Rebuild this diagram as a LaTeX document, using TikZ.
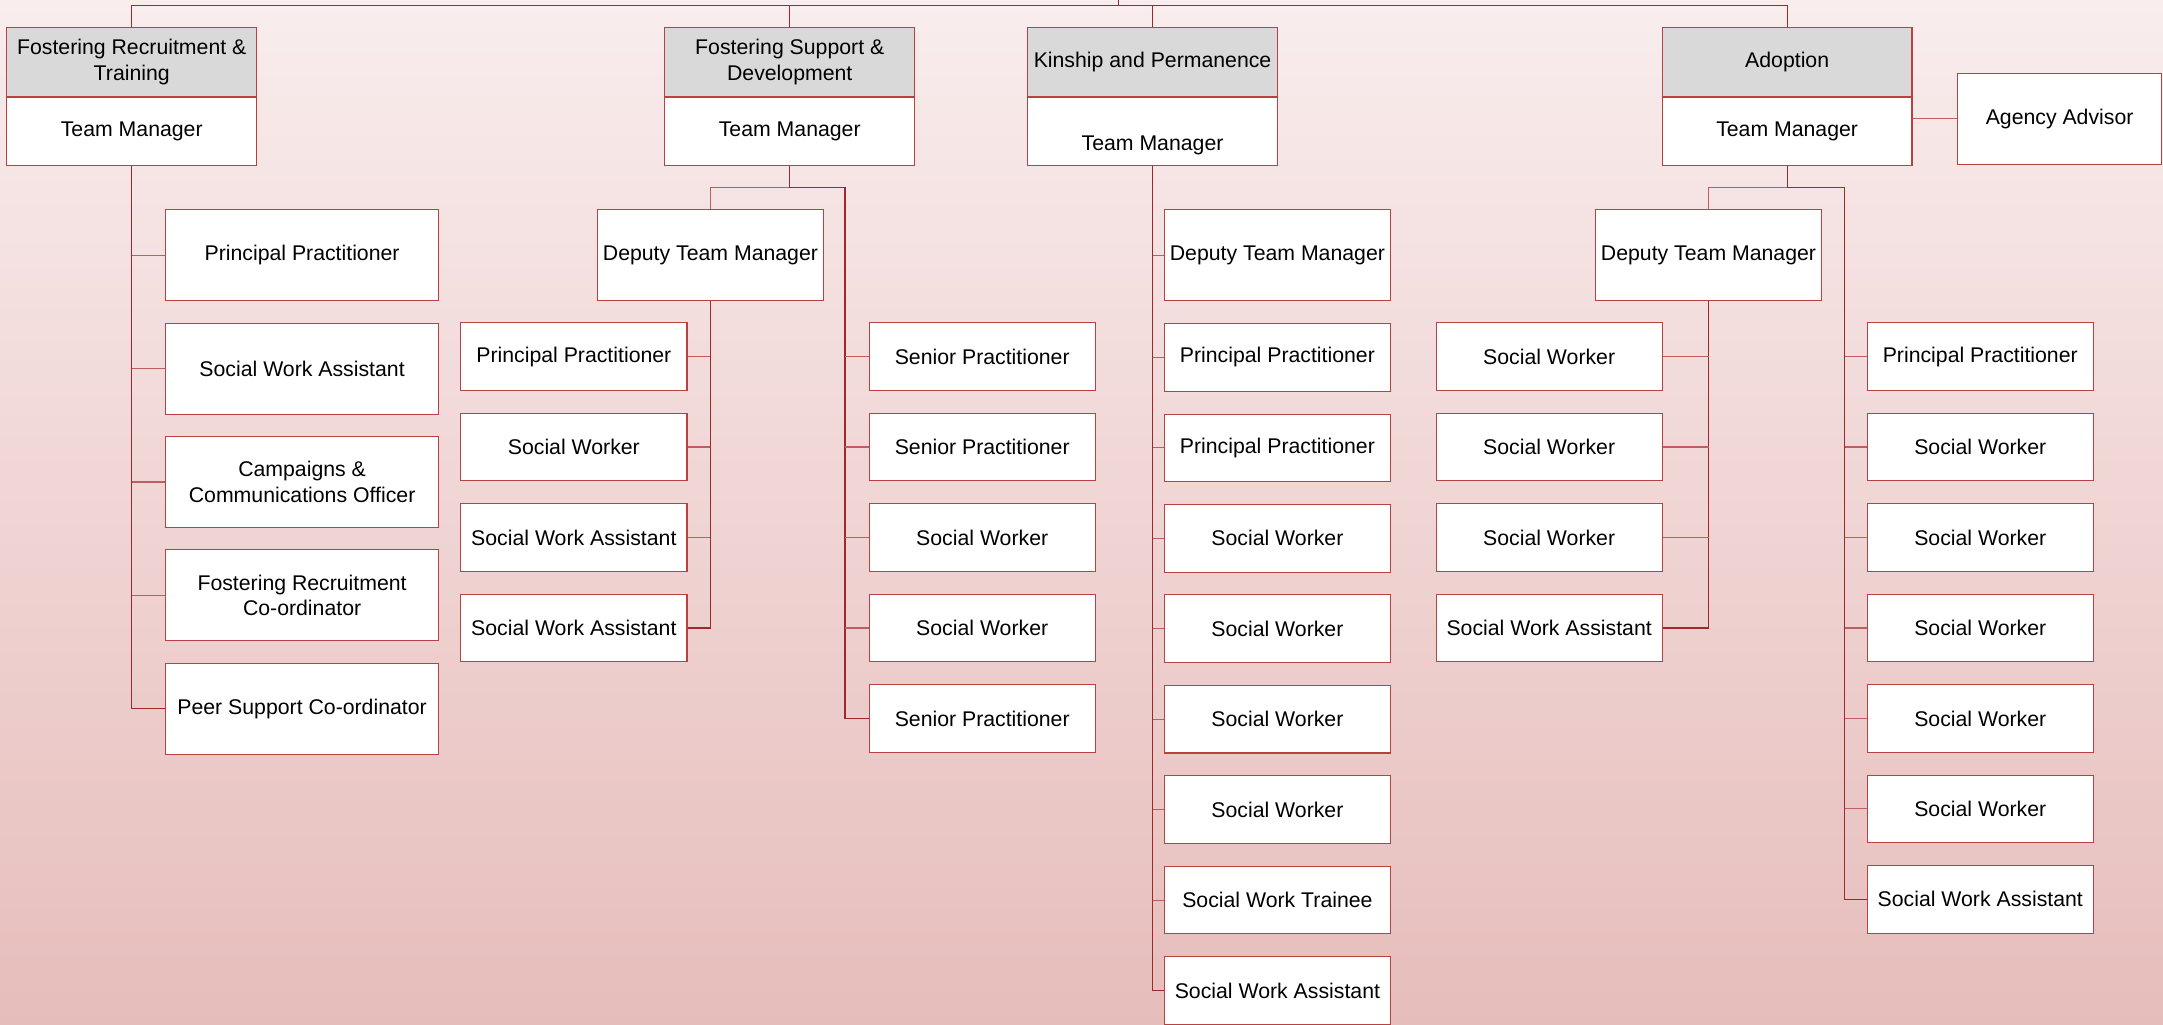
\documentclass[tikz,border=0pt]{standalone}
\usepackage{fontspec}
\setmainfont{Liberation Sans}
\usepackage{xcolor}
\definecolor{LINECOLOR}{RGB}{160,40,42}
\definecolor{STUBCOLOR}{RGB}{190,95,95}
\definecolor{BORDERCOLOR}{RGB}{185,65,65}
\definecolor{HEADCOLOR}{RGB}{217,217,217}
\definecolor{TOPCOLOR}{RGB}{249,237,237}
\definecolor{BOTTOMCOLOR}{RGB}{230,189,187}
\usepackage{tikz}
\usetikzlibrary{positioning,calc}
\tikzset{
  basic-style/.style = {
    rectangle, draw=BORDERCOLOR, line width=0.6pt,
    fill=#1,
    align=center,
    inner sep=1pt,
    font=\fontsize{12.1}{14.5}\selectfont
  },
  head-style/.style = {
    basic-style=HEADCOLOR,
    minimum width=4.994cm,
    minimum height=1.38cm
  },
  tm-style/.style = {
    basic-style=white,
    minimum width=4.994cm,
    minimum height=1.352cm
  },
  wide-style/.style = {
    basic-style=white,
    minimum width=5.463cm,
    minimum height=1.821cm
  },
  deputy-style/.style = {
    basic-style=white,
    minimum width=4.525cm,
    minimum height=1.821cm
  },
  post-style/.style = {
    basic-style=white,
    minimum width=4.525cm,
    minimum height=1.352cm
  },
  advisor-style/.style = {
    basic-style=white,
    minimum width=4.083cm,
    minimum height=1.821cm
  },
  link-style/.style = {draw=LINECOLOR, line width=0.7pt},
  stub-style/.style = {draw=STUBCOLOR, line width=0.7pt}
}

\begin{document}
\begin{tikzpicture}
    %%% background
    \useasboundingbox (0,0) rectangle (43.26,-20.50);
    \fill[top color=TOPCOLOR,bottom color=BOTTOMCOLOR] (0,0) rectangle (43.26,-20.50);

    %%% fostering recruitment & training
    \node[head-style] (hd1) at (2.635,-1.242) {Fostering Recruitment \&\\Training};
    \node[tm-style,below=0cm of hd1] (tm1) {Team Manager};
    \node[wide-style] (fr1) at (6.042,-5.104) {Principal Practitioner};
    \node[wide-style,below=0.425cm of fr1] (fr2) {Social Work Assistant};
    \node[wide-style,below=0.425cm of fr2] (fr3) {Campaigns \&\\Communications Officer};
    \node[wide-style,below=0.425cm of fr3] (fr4) {Fostering Recruitment\\Co-ordinator};
    \node[wide-style,below=0.425cm of fr4] (fr5) {Peer Support Co-ordinator};

    %%% fostering support & development
    \node[head-style] (hd2) at (15.795,-1.242) {Fostering Support \&\\Development};
    \node[tm-style,below=0cm of hd2] (tm2) {Team Manager};
    \node[deputy-style] (dp2) at (14.209,-5.104) {Deputy Team Manager};
    \node[post-style] (fs1) at (11.477,-7.132) {Principal Practitioner};
    \node[post-style,below=0.436cm of fs1] (fs2) {Social Worker};
    \node[post-style,below=0.436cm of fs2] (fs3) {Social Work Assistant};
    \node[post-style,below=0.436cm of fs3] (fs4) {Social Work Assistant};
    \node[post-style] (fs5) at (19.644,-7.132) {Senior Practitioner};
    \node[post-style,below=0.436cm of fs5] (fs6) {Senior Practitioner};
    \node[post-style,below=0.436cm of fs6] (fs7) {Social Worker};
    \node[post-style,below=0.436cm of fs7] (fs8) {Social Worker};
    \node[post-style,below=0.436cm of fs8] (fs9) {Senior Practitioner};

    %%% kinship and permanence
    \node[head-style] (hd3) at (23.051,-1.242) {Kinship and Permanence};
    \node[tm-style,below=0cm of hd3] (tm3) {\raisebox{-11pt}[0pt][0pt]{Team Manager}};
    \node[deputy-style] (kp1) at (25.548,-5.104) {Deputy Team Manager};
    \node[post-style,below=0.436cm of kp1] (kp2) {Principal Practitioner};
    \node[post-style,below=0.436cm of kp2] (kp3) {Principal Practitioner};
    \node[post-style,below=0.436cm of kp3] (kp4) {Social Worker};
    \node[post-style,below=0.436cm of kp4] (kp5) {Social Worker};
    \node[post-style,below=0.436cm of kp5] (kp6) {Social Worker};
    \node[post-style,below=0.436cm of kp6] (kp7) {Social Worker};
    \node[post-style,below=0.436cm of kp7] (kp8) {Social Work Trainee};
    \node[post-style,below=0.436cm of kp8] (kp9) {Social Work Assistant};

    %%% adoption
    \node[head-style] (hd4) at (35.743,-1.242) {Adoption};
    \node[tm-style,below=0cm of hd4] (tm4) {Team Manager};
    \node[advisor-style] (ag) at (41.192,-2.373) {Agency Advisor};
    \node[deputy-style] (dp4) at (34.170,-5.104) {Deputy Team Manager};
    \node[post-style] (ad1) at (30.983,-7.132) {Social Worker};
    \node[post-style,below=0.436cm of ad1] (ad2) {Social Worker};
    \node[post-style,below=0.436cm of ad2] (ad3) {Social Worker};
    \node[post-style,below=0.436cm of ad3] (ad4) {Social Work Assistant};
    \node[post-style] (ad5) at (39.605,-7.132) {Principal Practitioner};
    \node[post-style,below=0.436cm of ad5] (ad6) {Social Worker};
    \node[post-style,below=0.436cm of ad6] (ad7) {Social Worker};
    \node[post-style,below=0.436cm of ad7] (ad8) {Social Worker};
    \node[post-style,below=0.436cm of ad8] (ad9) {Social Worker};
    \node[post-style,below=0.436cm of ad9] (ad10) {Social Worker};
    \node[post-style,below=0.436cm of ad10] (ad11) {Social Work Assistant};

    %%% connectors
    % top bus
    \coordinate (top) at (22.375,0);
    \coordinate (bus) at (22.375,-0.110);
    \draw[link-style] (top) -- (bus);
    \draw[link-style] (hd1.north) |- (bus) -| (hd4.north);
    \draw[link-style] (hd2.north) -- (hd2.north |- bus);
    \draw[link-style] (hd3.north) -- (hd3.north |- bus);
    % fostering recruitment
    \draw[link-style] (tm1.south) |- (fr5.west);
    \draw[stub-style] (fr1.west) -- (fr1.west -| tm1.south);
    \draw[stub-style] (fr2.west) -- (fr2.west -| tm1.south);
    \draw[stub-style] (fr3.west) -- (fr3.west -| tm1.south);
    \draw[stub-style] (fr4.west) -- (fr4.west -| tm1.south);
    % fostering support
    \coordinate (br2) at ($(tm2.south)+(0,-0.441)$);
    \coordinate (sp2) at ($(fs5.west)+(-0.469,0)$);
    \draw[stub-style] (br2) -| (dp2.north);
    \draw[link-style] (tm2.south) -- (br2) -| (sp2) |- (fs9.west);
    \draw[stub-style] (sp2) -- (fs5.west);
    \draw[stub-style] (fs6.west) -- (fs6.west -| sp2);
    \draw[stub-style] (fs7.west) -- (fs7.west -| sp2);
    \draw[stub-style] (fs8.west) -- (fs8.west -| sp2);
    \draw[link-style] (dp2.south) |- (fs4.east);
    \draw[stub-style] (fs1.east) -- (fs1.east -| dp2.south);
    \draw[stub-style] (fs2.east) -- (fs2.east -| dp2.south);
    \draw[stub-style] (fs3.east) -- (fs3.east -| dp2.south);
    % kinship
    \draw[link-style] (tm3.south) |- (kp9.west);
    \draw[stub-style] (kp1.west) -- (kp1.west -| tm3.south);
    \draw[stub-style] (kp2.west) -- (kp2.west -| tm3.south);
    \draw[stub-style] (kp3.west) -- (kp3.west -| tm3.south);
    \draw[stub-style] (kp4.west) -- (kp4.west -| tm3.south);
    \draw[stub-style] (kp5.west) -- (kp5.west -| tm3.south);
    \draw[stub-style] (kp6.west) -- (kp6.west -| tm3.south);
    \draw[stub-style] (kp7.west) -- (kp7.west -| tm3.south);
    \draw[stub-style] (kp8.west) -- (kp8.west -| tm3.south);
    % adoption
    \draw[stub-style] (ag.west) -- (ag.west -| tm4.east);
    \coordinate (br4) at ($(tm4.south)+(0,-0.441)$);
    \coordinate (sp4) at ($(ad5.west)+(-0.441,0)$);
    \draw[stub-style] (br4) -| (dp4.north);
    \draw[link-style] (tm4.south) -- (br4) -| (sp4) |- (ad11.west);
    \draw[stub-style] (sp4) -- (ad5.west);
    \draw[stub-style] (ad6.west) -- (ad6.west -| sp4);
    \draw[stub-style] (ad7.west) -- (ad7.west -| sp4);
    \draw[stub-style] (ad8.west) -- (ad8.west -| sp4);
    \draw[stub-style] (ad9.west) -- (ad9.west -| sp4);
    \draw[stub-style] (ad10.west) -- (ad10.west -| sp4);
    \draw[link-style] (dp4.south) |- (ad4.east);
    \draw[stub-style] (ad1.east) -- (ad1.east -| dp4.south);
    \draw[stub-style] (ad2.east) -- (ad2.east -| dp4.south);
    \draw[stub-style] (ad3.east) -- (ad3.east -| dp4.south);
\end{tikzpicture}
\end{document}
